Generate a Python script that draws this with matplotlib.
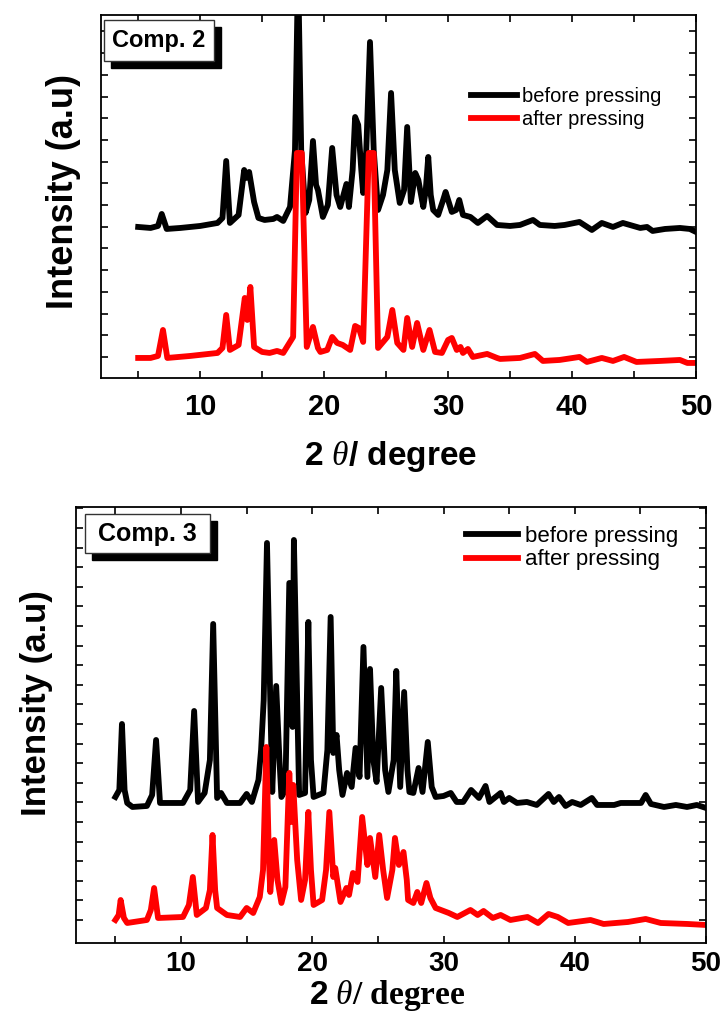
import numpy as np
import matplotlib
matplotlib.use("Agg")
import matplotlib.pyplot as plt
from matplotlib.patches import Rectangle

plt.rcParams["font.family"] = "Liberation Sans"
plt.rcParams["mathtext.fontset"] = "custom"
plt.rcParams["mathtext.it"] = "Liberation Serif:italic"
plt.rcParams["mathtext.rm"] = "Liberation Sans:bold"
plt.rcParams["mathtext.sf"] = "Liberation Sans:bold"

# ---- Comp. 2 (2theta, intensity in a.u.) ----
c2_before_x = [5.0, 6.0, 6.6, 6.9, 7.3, 8.4, 10.0, 11.4, 11.8, 12.1, 12.4, 13.1, 13.55, 13.7, 13.95,
               14.35, 14.7, 15.2, 15.9, 16.2, 16.7, 17.25, 17.65, 17.9, 18.15, 18.5, 18.8, 19.1, 19.35,
               19.5, 19.9, 20.3, 20.65, 21.0, 21.3, 21.8, 22.0, 22.3, 22.5, 22.75, 23.0, 23.15, 23.4,
               23.7, 24.0, 24.35, 24.75, 25.1, 25.4, 25.7, 26.1, 26.45, 26.7, 27.0, 27.35, 27.6, 28.0,
               28.2, 28.4, 28.6, 28.8, 29.2, 29.6, 29.8, 30.3, 30.65, 30.9, 31.2, 31.8, 32.4, 33.15,
               33.95, 35.0, 35.8, 36.85, 37.4, 38.6, 39.4, 40.6, 41.6, 42.4, 43.3, 44.1, 45.5, 46.05,
               46.5, 47.5, 48.7, 49.5, 50.0]
c2_before_y = [151, 150, 152, 164, 149, 150, 152, 155, 160, 217, 155, 163, 208, 200, 206,
               176, 160, 158, 159, 161, 157, 171, 228, 410, 228, 165, 178, 237, 193,
               188, 161, 173, 230, 183, 171, 194, 171, 208, 261, 253, 208, 185, 228,
               336, 228, 168, 183, 208, 285, 208, 175, 188, 251, 176, 205, 198, 171,
               188, 221, 183, 168, 163, 178, 186, 166, 168, 178, 163, 161, 155, 162,
               153, 152, 153, 158, 153, 152, 153, 156, 148, 155, 151, 155, 150, 151,
               147, 149, 150, 149, 146]

c2_after_x = [5.0, 6.0, 6.6, 7.0, 7.35, 9.2, 11.4, 11.8, 12.1, 12.4, 13.1, 13.6, 13.8, 14.05, 14.35,
              15.0, 15.6, 16.2, 16.7, 17.5, 17.8, 18.2, 18.6, 19.1, 19.5, 19.7, 20.25, 20.65, 21.05,
              21.5, 22.1, 22.5, 22.8, 23.15, 23.6, 24.0, 24.35, 25.1, 25.5, 25.9, 26.4, 26.7, 27.1,
              27.5, 28.0, 28.5, 28.95, 29.5, 30.0, 30.3, 30.7, 31.0, 31.2, 31.6, 32.0, 33.15, 33.95,
              34.2, 35.8, 37.0, 37.65, 39.0, 40.6, 41.2, 42.4, 43.3, 44.2, 45.2, 47.1, 48.7, 49.3, 50.0]
c2_after_y = [20, 20, 22, 48, 20, 22, 25, 30, 63, 28, 33, 80, 58, 91, 31,
              26, 25, 27, 25, 41, 225, 225, 31, 51, 30, 26, 28, 41, 35,
              33, 28, 52, 50, 36, 225, 225, 30, 41, 68, 35, 28, 60, 31,
              55, 28, 48, 26, 25, 38, 40, 28, 31, 25, 29, 21, 24, 20,
              19, 20, 24, 17, 18, 21, 16, 20, 17, 21, 16, 17, 18, 15, 15]

# ---- Comp. 3 ----
c3_before_x = [5.0, 5.3, 5.5, 5.7, 5.9, 6.3, 7.4, 7.8, 8.1, 8.4, 10.15, 10.7, 11.0, 11.3, 11.8,
               12.2, 12.45, 12.75, 13.05, 13.5, 14.5, 15.0, 15.4, 15.9, 16.1, 16.3, 16.55, 16.8,
               16.95, 17.25, 17.5, 17.65, 17.95, 18.25, 18.5, 18.6, 18.85, 19.0, 19.45, 19.7, 19.9,
               20.1, 20.85, 21.15, 21.4, 21.6, 21.85, 22.05, 22.3, 22.65, 23.0, 23.3, 23.6, 23.9,
               24.2, 24.4, 24.65, 24.9, 25.25, 25.55, 25.8, 26.2, 26.4, 26.7, 27.0, 27.25, 27.4,
               27.7, 28.1, 28.4, 28.8, 29.1, 29.4, 30.0, 30.55, 31.0, 31.5, 32.1, 32.7, 33.2, 33.5,
               34.35, 34.6, 35.0, 35.6, 36.35, 37.1, 38.0, 38.4, 38.8, 39.3, 39.8, 40.45, 41.3, 41.7,
               43.0, 43.5, 44.3, 45.05, 45.4, 45.8, 46.8, 47.7, 48.55, 49.3, 50.0]
c3_before_y = [146, 153, 219, 153, 140, 136, 137, 148, 203, 140, 140, 153, 232, 141, 150,
               183, 319, 145, 150, 140, 140, 149, 141, 163, 193, 243, 400, 243,
               151, 257, 183, 146, 153, 360, 216, 403, 243, 148, 150, 321, 183,
               146, 150, 193, 326, 190, 208, 173, 148, 170, 156, 195, 166, 296,
               166, 274, 183, 161, 255, 173, 151, 183, 272, 156, 251, 173, 151,
               150, 175, 151, 201, 156, 146, 147, 150, 141, 141, 153, 145, 157, 141,
               150, 141, 145, 140, 141, 138, 149, 141, 146, 137, 141, 138, 145, 138,
               138, 140, 140, 140, 148, 139, 136, 138, 136, 138, 135]

c3_after_x = [5.0, 5.25, 5.4, 5.65, 5.9, 7.4, 7.7, 7.95, 8.25, 10.15, 10.6, 10.9, 11.2, 11.9, 12.2,
              12.4, 12.6, 12.75, 13.5, 14.5, 15.0, 15.5, 16.0, 16.25, 16.5, 16.7, 16.8, 17.1, 17.35,
              17.65, 17.95, 18.25, 18.4, 18.55, 18.85, 19.15, 19.45, 19.7, 19.9, 20.1, 20.75, 21.05,
              21.3, 21.6, 21.75, 22.15, 22.6, 22.8, 23.1, 23.45, 23.8, 24.2, 24.4, 24.8, 25.1, 25.4,
              25.7, 26.1, 26.3, 26.6, 26.95, 27.2, 27.3, 27.7, 28.0, 28.3, 28.7, 29.0, 29.4, 29.8,
              30.4, 31.05, 32.05, 32.6, 33.05, 33.75, 34.35, 35.1, 36.4, 37.2, 38.0, 38.7, 39.5,
              41.2, 42.2, 44.05, 45.4, 46.55, 48.6, 50.0]
c3_after_y = [23, 28, 43, 25, 20, 23, 33, 55, 25, 26, 38, 66, 28, 35, 53,
              108, 53, 35, 28, 26, 35, 30, 46, 73, 196, 83, 51, 103, 63,
              40, 56, 170, 121, 158, 83, 43, 63, 131, 73, 38, 43, 73,
              131, 66, 75, 41, 55, 48, 70, 61, 126, 78, 105, 66, 108, 73,
              45, 73, 105, 78, 91, 63, 43, 40, 51, 40, 60, 45, 35, 33,
              30, 26, 33, 28, 32, 25, 28, 23, 26, 20, 29, 26, 20,
              23, 19, 21, 24, 20, 19, 18]

x_ticks = [10, 20, 30, 40, 50]

fig = plt.figure(figsize=(7.26, 10.19), dpi=100)
ax1 = fig.add_axes([0.1391, 0.6291, 0.8196, 0.3562])
ax2 = fig.add_axes([0.1047, 0.0746, 0.8678, 0.4279])

panels = [
    (ax1, c2_before_x, c2_before_y, c2_after_x, c2_after_y, 363, np.arange(21, 363, 21.7), 21),
    (ax2, c3_before_x, c3_before_y, c3_after_x, c3_after_y, 436, np.arange(23, 436, 19.6), 20),
]

for ax, bx, by, rx, ry, ytop, yt, tfs in panels:
    ax.plot(bx, by, color="black", lw=4.2, solid_joinstyle="round", label="before pressing")
    ax.plot(rx, ry, color="red", lw=4.2, solid_joinstyle="round", label="after pressing")
    ax.set_xlim(2, 50)
    ax.set_ylim(0, ytop)
    ax.set_xticks(x_ticks)
    ax.set_xticks([5, 15, 25, 35, 45], minor=True)
    ax.set_yticks(yt)
    ax.set_yticklabels([])
    ax.tick_params(which="both", direction="in", top=True, right=True, length=5, width=1.2)
    for lab in ax.get_xticklabels():
        lab.set_fontweight("bold")
        lab.set_fontsize(tfs)
    for s in ax.spines.values():
        s.set_linewidth(1.3)

# tick label distance
ax1.tick_params(axis="x", pad=11)
ax2.tick_params(axis="x", pad=6)

# axis labels
ax1.set_ylabel("Intensity (a.u)", fontsize=26, fontweight="bold")
ax1.yaxis.set_label_coords(-0.033, 0.515)
ax2.set_ylabel("Intensity (a.u)", fontsize=25, fontweight="bold")
ax2.yaxis.set_label_coords(-0.036, 0.55)

ax1.set_xlabel(r"2 $\theta$/ degree", fontsize=24, fontweight="bold")
ax1.xaxis.set_label_coords(0.486, -0.168)
ax2.set_xlabel(r"$\mathsf{2}$ $\theta$/ degree", fontsize=24, fontweight="bold",
               family="Liberation Serif")
ax2.xaxis.set_label_coords(0.494, -0.08)

# legends
ax1.legend(loc="center left", bbox_to_anchor=(0.622, 0.744), frameon=False, fontsize=14.5,
           handlelength=2.3, handletextpad=0.25, labelspacing=0.2, borderpad=0, borderaxespad=0)
ax2.legend(loc="center left", bbox_to_anchor=(0.619, 0.905), frameon=False, fontsize=16,
           handlelength=2.35, handletextpad=0.3, labelspacing=0.1, borderpad=0, borderaxespad=0)

# label boxes with drop shadow
boxes = [(ax1, 0.005, 0.873, 0.185, 0.113, 0.0118, 0.0193, 17),
         (ax2, 0.014, 0.894, 0.198, 0.09, 0.011, 0.016, 18)]
for (ax, bx0, by0, bw, bh, dx, dy, fs), name in zip(boxes, ["Comp. 2", "Comp. 3"]):
    ax.add_patch(Rectangle((bx0 + dx, by0 - dy), bw, bh, transform=ax.transAxes,
                           facecolor="black", edgecolor="black", zorder=5, clip_on=False))
    ax.add_patch(Rectangle((bx0, by0), bw, bh, transform=ax.transAxes,
                           facecolor="white", edgecolor="#333333", lw=1, zorder=6, clip_on=False))
    ax.text(bx0 + bw / 2, by0 + bh / 2, name, transform=ax.transAxes, ha="center", va="center",
            fontsize=fs, fontweight="bold", zorder=7)

fig.savefig("out.png", dpi=100)
